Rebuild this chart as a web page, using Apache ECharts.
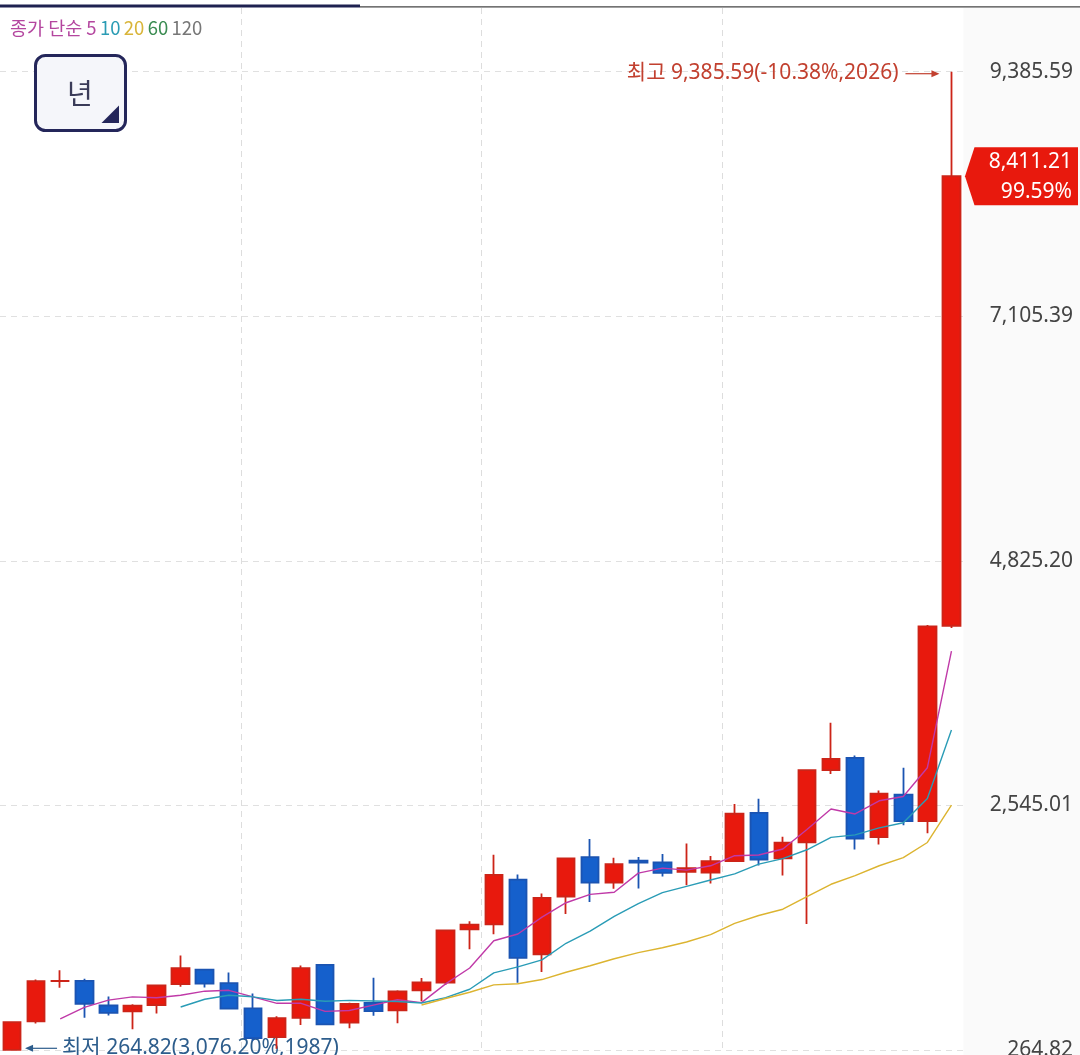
<!DOCTYPE html>
<html><head><meta charset="utf-8">
<script src="https://cdn.jsdelivr.net/npm/echarts@6/dist/echarts.min.js"></script>
<style>html,body{margin:0;padding:0;background:#fff}#c{width:1080px;height:1055px}</style>
</head><body><div id="c"></div>
<script>
const years = ['1987','1988','1989','1990','1991','1992','1993','1994','1995','1996','1997','1998','1999','2000','2001','2002','2003','2004','2005','2006','2007','2008','2009','2010','2011','2012','2013','2014','2015','2016','2017','2018','2019','2020','2021','2022','2023','2024','2025','2026'];
const opens = [266.0,532.06,907.20,908.59,679.75,624.23,683.0,879.86,1013.57,888.85,653.79,385.49,565.10,1059.04,520.95,704.0,635.17,821.26,893.71,1389.27,1435.26,1853.45,1157.40,1696.14,2063.69,1826.49,2031.10,2013.11,1926.44,1918.76,2026.16,2474.86,2050.55,2201.21,2874.50,2988.77,2249.95,2645.47,2398.94,4220.0];
const closes = [525.11,907.20,909.72,696.11,610.92,678.44,866.18,1027.37,882.94,651.22,376.31,562.46,1028.07,504.62,693.70,627.55,810.71,895.92,1379.37,1434.46,1897.13,1124.47,1682.77,2051.00,1825.74,1997.05,2011.34,1915.59,1961.31,2026.46,2467.49,2041.04,2197.67,2873.47,2977.65,2236.40,2655.28,2399.49,4214.17,8411.21];
const highs = [525.11,922.56,1007.77,928.82,763.10,691.48,874.10,1145.66,1016.77,986.84,792.29,579.86,1052.02,1066.18,704.50,937.61,822.16,936.06,1379.37,1464.70,2085.45,1901.13,1723.17,2052.97,2231.47,2057.28,2063.28,2093.08,2189.54,2073.89,2557.97,2607.10,2252.05,2878.21,3316.08,3010.77,2684.86,2896.43,4226.75,9385.59];
const lows = [264.82,512.0,844.75,566.27,586.51,459.07,605.93,855.37,847.09,645.0,350.68,277.37,498.42,500.60,468.76,584.04,515.24,719.59,870.84,1203.86,1345.08,892.16,992.69,1532.68,1644.11,1769.31,1770.53,1881.73,1800.75,1817.97,2026.16,1985.95,1891.81,1439.43,2839.01,2134.77,2180.67,2360.58,2284.72,4200.0];
const ma5 = [null,null,555.60,662.15,729.81,760.48,752.27,775.80,813.17,821.23,760.80,700.06,700.20,624.54,633.03,683.28,732.93,706.50,881.45,1029.60,1283.52,1346.27,1503.64,1637.97,1716.22,1736.21,1913.58,1960.14,1942.21,1982.35,2076.44,2082.38,2138.79,2321.23,2511.46,2465.25,2588.09,2628.46,2896.60,3983.31];
const ma10 = [null,null,null,null,null,null,null,665.70,737.66,775.52,760.64,726.17,738.00,718.85,727.13,722.04,716.50,703.35,752.99,831.32,983.40,1039.60,1105.07,1259.71,1372.91,1509.86,1629.93,1731.89,1790.09,1849.29,1906.32,1997.98,2049.47,2131.72,2246.91,2270.84,2335.24,2383.63,2608.91,3247.39];
const ma20 = [null,null,null,null,null,null,null,null,null,null,null,null,null,null,null,null,null,684.53,745.33,803.42,872.02,882.88,921.54,989.28,1050.02,1115.95,1173.21,1217.62,1271.54,1340.30,1444.86,1518.79,1577.27,1695.71,1809.91,1890.35,1982.58,2057.76,2199.50,2548.34];
const yTicks = [264.82, 2545.01, 4825.20, 7105.39, 9385.59];

const FONT = "'Noto Sans', 'Noto Sans CJK KR', sans-serif";
const KFONT = "'Noto Sans CJK KR', 'Noto Sans', sans-serif";
const fmt = v => Number(v).toLocaleString('en-US', {minimumFractionDigits: 2, maximumFractionDigits: 2});
const UP = '#e8190d', DOWN = '#1560cc';
const CLEAR = 'rgba(0,0,0,0)';

const chart = echarts.init(document.getElementById('c'));
const candleData = years.map((y, i) => [opens[i], closes[i], lows[i], highs[i]]);

const option = {
  animation: false,
  backgroundColor: '#ffffff',
  grid: {left: 0, right: 116.5, top: 8, bottom: 5, outerBoundsMode: 'none', containLabel: false},
  xAxis: {
    type: 'category', data: years, boundaryGap: true,
    axisLine: {show: false}, axisTick: {show: false, interval: 9},
    axisLabel: {show: false, interval: 9},
    splitLine: {show: true, interval: 9, lineStyle: {color: [CLEAR, '#dddddd', '#dddddd', '#dddddd', CLEAR], type: [6, 5], width: 1}}
  },
  yAxis: {
    type: 'value', position: 'right', min: 264.82, max: 9979.5,
    axisLine: {show: false},
    axisTick: {show: false, customValues: yTicks},
    axisLabel: {customValues: yTicks, formatter: fmt, color: '#444', fontSize: 21, fontFamily: FONT, align: 'right', margin: 109.5},
    splitLine: {show: true, lineStyle: {color: '#e0e0e0', type: [6, 5], width: 1}}
  },
  series: [
    {
      type: 'candlestick', data: candleData, barWidth: 18, z: 2,
      itemStyle: {color: UP, color0: DOWN, borderColor: '#cc2418', borderColor0: '#1b54b2', borderWidth: 1.8}
    },
    {type: 'line', data: ma5, showSymbol: false, symbol: 'none', z: 3, lineStyle: {color: '#c03aa8', width: 1.4}},
    {type: 'line', data: ma10, showSymbol: false, symbol: 'none', z: 3, lineStyle: {color: '#2a9cb6', width: 1.4}},
    {type: 'line', data: ma20, showSymbol: false, symbol: 'none', z: 3, lineStyle: {color: '#dcb430', width: 1.4}}
  ]
};
chart.setOption(option);

const last = years.length - 1;
const hiIdx = highs.indexOf(Math.max(...highs));
const loIdx = lows.indexOf(Math.min(...lows));
const hp = chart.convertToPixel({gridIndex: 0}, [hiIdx, highs[hiIdx]]);
const lp = chart.convertToPixel({gridIndex: 0}, [loIdx, lows[loIdx]]);
const cp = chart.convertToPixel({gridIndex: 0}, [last, closes[last]]);
const prevX = chart.convertToPixel({gridIndex: 0}, [last - 1, closes[last]]);
const gridRight = cp[0] + (cp[0] - prevX[0]) / 2;
const pctHi = ((closes[last] / highs[hiIdx] - 1) * 100).toFixed(2);
const pctLo = ((closes[last] / lows[loIdx] - 1) * 100).toLocaleString('en-US', {minimumFractionDigits: 2, maximumFractionDigits: 2});
const pctChg = ((closes[last] / closes[last - 1] - 1) * 100).toFixed(2);

const hiY = hp[1] + 1;
const loY = lp[1] - 1.7;
const HI_C = '#c2402f', LO_C = '#2d5d8c';

chart.setOption({
  graphic: [
    {type: 'rect', z: -10, silent: true, shape: {x: gridRight, y: 8, width: 1080 - gridRight, height: 1047}, style: {fill: '#fafafa'}},
    {type: 'rect', silent: true, shape: {x: 0, y: 4.5, width: 360, height: 3}, style: {fill: '#1e2150'}},
    {type: 'rect', silent: true, shape: {x: 360, y: 6.3, width: 720, height: 1.2}, style: {fill: '#444444'}},
    {type: 'text', silent: true, x: 10, y: 28, style: {
      text: '{a|종가 단순 5} {b|10} {c|20} {d|60} {e|120}', verticalAlign: 'middle',
      rich: {
        a: {fill: '#b4469f', fontSize: 18.5, fontFamily: KFONT},
        b: {fill: '#2b9cb4', fontSize: 18.5, fontFamily: KFONT},
        c: {fill: '#d9b53a', fontSize: 18.5, fontFamily: KFONT},
        d: {fill: '#3b8c52', fontSize: 18.5, fontFamily: KFONT},
        e: {fill: '#777777', fontSize: 18.5, fontFamily: KFONT}
      }
    }},
    {type: 'rect', silent: true, shape: {x: 35.5, y: 55.5, width: 90, height: 75, r: 10}, style: {fill: '#f5f6fa', stroke: '#24265a', lineWidth: 3}},
    {type: 'text', silent: true, x: 80, y: 93, style: {text: '년', fill: '#3a3b58', fontSize: 28, fontFamily: KFONT, align: 'center', verticalAlign: 'middle'}},
    {type: 'polygon', silent: true, shape: {points: [[119, 105.5], [119, 123], [101.5, 123]]}, style: {fill: '#24265a'}},
    // high marker
    {type: 'text', silent: true, x: hp[0] - 53, y: hiY, style: {text: '최고 ' + fmt(highs[hiIdx]) + '(' + pctHi + '%,' + years[hiIdx] + ')', fill: HI_C, fontSize: 21, fontFamily: FONT, align: 'right', verticalAlign: 'middle'}},
    {type: 'line', silent: true, shape: {x1: hp[0] - 46, y1: hiY + 1, x2: hp[0] - 16, y2: hiY + 1}, style: {stroke: HI_C, lineWidth: 1.2}},
    {type: 'polygon', silent: true, shape: {points: [[hp[0] - 20, hiY - 2.5], [hp[0] - 12, hiY + 1], [hp[0] - 20, hiY + 4.5]]}, style: {fill: HI_C}},
    // low marker
    {type: 'line', silent: true, shape: {x1: lp[0] + 17, y1: loY, x2: lp[0] + 45, y2: loY}, style: {stroke: LO_C, lineWidth: 1.2}},
    {type: 'polygon', silent: true, shape: {points: [[lp[0] + 21, loY - 3.5], [lp[0] + 13, loY], [lp[0] + 21, loY + 3.5]]}, style: {fill: LO_C}},
    {type: 'text', silent: true, x: lp[0] + 50, y: loY, style: {text: '최저 ' + fmt(lows[loIdx]) + '(' + pctLo + '%,' + years[loIdx] + ')', fill: LO_C, fontSize: 21, fontFamily: FONT, align: 'left', verticalAlign: 'middle'}},
    // price tag
    {type: 'polygon', silent: true, shape: {points: [[gridRight + 1.5, cp[1]], [gridRight + 11, cp[1] - 29], [1078, cp[1] - 29], [1078, cp[1] + 29], [gridRight + 11, cp[1] + 29]]}, style: {fill: UP}},
    {type: 'text', silent: true, x: 1072, y: cp[1] - 14, style: {text: fmt(closes[last]), fill: '#ffffff', fontSize: 21, fontFamily: FONT, align: 'right', verticalAlign: 'middle'}},
    {type: 'text', silent: true, x: 1072, y: cp[1] + 15.5, style: {text: pctChg + '%', fill: '#ffffff', fontSize: 21, fontFamily: FONT, align: 'right', verticalAlign: 'middle'}}
  ]
});
</script></body></html>
